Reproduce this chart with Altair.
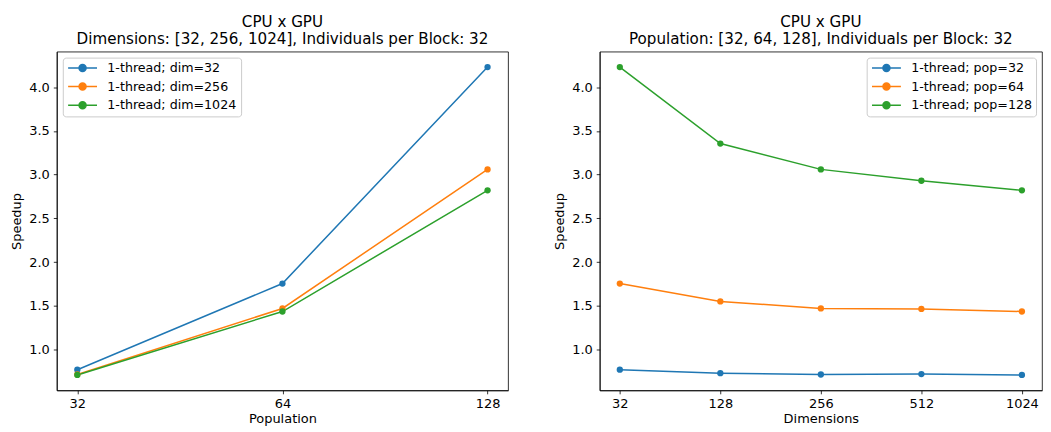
import altair as alt
import pandas as pd

# ---- data ----
populations = [32, 64, 128]
left_series = ["1-thread; dim=32", "1-thread; dim=256", "1-thread; dim=1024"]
dim32_speedup = [0.77, 1.755, 4.23]
dim256_speedup = [0.715, 1.47, 3.06]
dim1024_speedup = [0.71, 1.435, 2.82]

dimensions = [32, 128, 256, 512, 1024]
right_series = ["1-thread; pop=32", "1-thread; pop=64", "1-thread; pop=128"]
pop32_speedup = [0.77, 0.73, 0.715, 0.72, 0.71]
pop64_speedup = [1.755, 1.55, 1.47, 1.465, 1.435]
pop128_speedup = [4.23, 3.355, 3.06, 2.93, 2.82]

y_ticks = [1.0, 1.5, 2.0, 2.5, 3.0, 3.5, 4.0]
colors = ["#1f77b4", "#ff7f0e", "#2ca02c"]

left_rows = []
for name, vals in zip(left_series, [dim32_speedup, dim256_speedup, dim1024_speedup]):
    for p, v in zip(populations, vals):
        left_rows.append({"x": str(p), "speedup": v, "series": name})
left_df = pd.DataFrame(left_rows)

right_rows = []
for name, vals in zip(right_series, [pop32_speedup, pop64_speedup, pop128_speedup]):
    for d, v in zip(dimensions, vals):
        right_rows.append({"x": str(d), "speedup": v, "series": name})
right_df = pd.DataFrame(right_rows)

FONT = "DejaVu Sans"
SYMBOL = "M-1,0H4.8M1.2,0A0.7,0.7 0 1,0 2.6,0A0.7,0.7 0 1,0 1.2,0Z"


def panel(df, xvals, series, xtitle, title2, pad, legend_orient, width):
    legend = alt.Legend(
        title=None, orient=legend_orient, offset=6,
        symbolType=SYMBOL, symbolSize=100, symbolStrokeWidth=1.5,
        labelOffset=28, labelFontSize=12.7, labelFont=FONT, labelColor="black",
        rowPadding=3.7, padding=4, strokeColor="#cccccc",
        fillColor="rgba(255,255,255,0.8)", cornerRadius=3,
    )
    x = alt.X("x:O", sort=[str(v) for v in xvals],
              scale=alt.Scale(type="point", padding=pad),
              axis=alt.Axis(title=xtitle, labelAngle=0, labelPadding=4, titlePadding=2))
    y = alt.Y("speedup:Q", scale=alt.Scale(domain=[0.534, 4.406], nice=False, zero=False),
              axis=alt.Axis(title="Speedup", values=y_ticks, format=".1f",
                            labelPadding=4, titlePadding=5))
    color = alt.Color("series:N", scale=alt.Scale(domain=series, range=colors), legend=legend)
    base = alt.Chart(df).encode(x=x, y=y, color=color)
    lines = base.mark_line(strokeWidth=1.5)
    points = base.mark_point(filled=True, size=40, opacity=1)
    return alt.layer(lines, points).properties(
        width=width,
        height=340,
        title=alt.TitleParams(text=["CPU x GPU", title2], fontSize=15.2, fontWeight="normal",
                              font=FONT, color="black", offset=4, lineHeight=17.5),
    )


left = panel(left_df, populations, left_series, "Population",
             "Dimensions: [32, 256, 1024], Individuals per Block: 32", 0.1, "top-left", 453)
right = panel(right_df, dimensions, right_series, "Dimensions",
              "Population: [32, 64, 128], Individuals per Block: 32", 0.2, "top-right", 444)

chart = alt.hconcat(left, right, spacing=44).resolve_scale(color="independent").properties(
    padding={"left": 2, "top": 5, "right": 0, "bottom": 0}
).configure_view(stroke="black", strokeWidth=0.8).configure_axis(
    labelFont=FONT, titleFont=FONT, labelFontSize=13, titleFontSize=13,
    titleFontWeight="normal", labelColor="black", titleColor="black",
    tickColor="black", domainColor="black", domainWidth=0.8, tickWidth=0.8,
    tickSize=3.5, grid=False,
)

chart.save("out.html", embed_options={"renderer": "svg", "actions": False})
